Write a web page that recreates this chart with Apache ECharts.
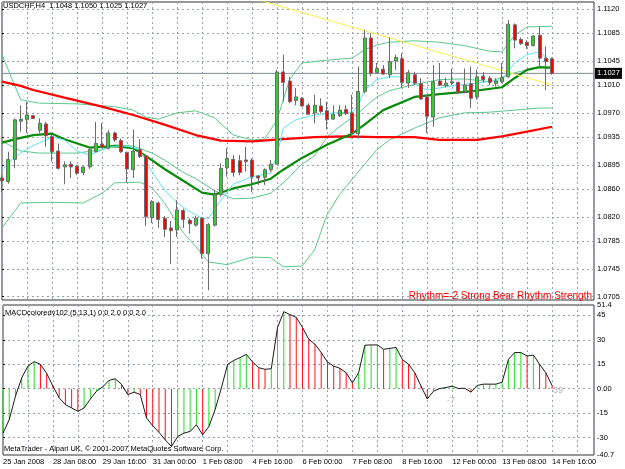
<!DOCTYPE html>
<html>
<head>
<meta charset="utf-8">
<script src="https://cdn.jsdelivr.net/npm/echarts@6/dist/echarts.min.js"></script>
<style>
  html, body { margin: 0; padding: 0; background: #fff; }
  #chart { width: 625px; height: 469px; }
</style>
</head>
<body>
<div id="chart"></div>
<script>
// USDCHF H4, 25 Jan - 14 Feb 2008, one entry per bar: [open, close, low, high]
const candles = [
  [1.0876, 1.0872, 1.0856, 1.0880], [1.0871, 1.0903, 1.0868, 1.0914], [1.0903, 1.0960, 1.0890, 1.0962],
  [1.0958, 1.0961, 1.0943, 1.0981], [1.0960, 1.0967, 1.0941, 1.0986], [1.0966, 1.0962, 1.0961, 1.0967],
  [1.0945, 1.0955, 1.0941, 1.0962], [1.0954, 1.0937, 1.0921, 1.0957], [1.0936, 1.0914, 1.0900, 1.0938],
  [1.0915, 1.0890, 1.0888, 1.0926], [1.0892, 1.0895, 1.0867, 1.0900], [1.0896, 1.0892, 1.0876, 1.0900],
  [1.0893, 1.0883, 1.0880, 1.0895], [1.0884, 1.0892, 1.0880, 1.0893], [1.0892, 1.0917, 1.0889, 1.0919],
  [1.0914, 1.0926, 1.0913, 1.0957], [1.0925, 1.0920, 1.0919, 1.0955], [1.0919, 1.0941, 1.0917, 1.0945],
  [1.0941, 1.0931, 1.0928, 1.0943], [1.0930, 1.0914, 1.0912, 1.0933], [1.0913, 1.0889, 1.0869, 1.0914],
  [1.0888, 1.0915, 1.0876, 1.0946], [1.0917, 1.0907, 1.0905, 1.0932], [1.0908, 1.0820, 1.0807, 1.0909],
  [1.0819, 1.0842, 1.0811, 1.0844], [1.0840, 1.0816, 1.0804, 1.0842], [1.0818, 1.0802, 1.0791, 1.0821],
  [1.0804, 1.0800, 1.0752, 1.0814], [1.0801, 1.0830, 1.0791, 1.0844], [1.0829, 1.0816, 1.0804, 1.0832],
  [1.0815, 1.0810, 1.0796, 1.0818], [1.0808, 1.0818, 1.0806, 1.0821], [1.0818, 1.0767, 1.0760, 1.0820],
  [1.0767, 1.0809, 1.0714, 1.0811], [1.0808, 1.0852, 1.0806, 1.0859], [1.0852, 1.0890, 1.0849, 1.0897],
  [1.0891, 1.0904, 1.0878, 1.0919], [1.0903, 1.0884, 1.0878, 1.0909], [1.0901, 1.0884, 1.0880, 1.0909],
  [1.0902, 1.0900, 1.0885, 1.0921], [1.0902, 1.0878, 1.0856, 1.0904], [1.0879, 1.0876, 1.0866, 1.0880],
  [1.0877, 1.0888, 1.0866, 1.0890], [1.0888, 1.0896, 1.0885, 1.0902], [1.0896, 1.1029, 1.0896, 1.1032],
  [1.1029, 1.1014, 1.0986, 1.1054], [1.1016, 1.0986, 1.0984, 1.1022], [1.0988, 1.0993, 1.0981, 1.1006],
  [1.0991, 1.0980, 1.0979, 1.0993], [1.0981, 1.0968, 1.0967, 1.0984], [1.0970, 1.0981, 1.0955, 1.0996],
  [1.0980, 1.0972, 1.0969, 1.0991], [1.0973, 1.0960, 1.0946, 1.0986], [1.0961, 1.0968, 1.0960, 1.0981],
  [1.0966, 1.0974, 1.0964, 1.0981], [1.0975, 1.0969, 1.0967, 1.0981], [1.0970, 1.0941, 1.0933, 1.0996],
  [1.0940, 1.1001, 1.0933, 1.1037], [1.1001, 1.1078, 1.0998, 1.1090], [1.1078, 1.1027, 1.1023, 1.1085],
  [1.1028, 1.1034, 1.1027, 1.1042], [1.1033, 1.1026, 1.1025, 1.1039], [1.1025, 1.1044, 1.1020, 1.1079],
  [1.1045, 1.1050, 1.1032, 1.1054], [1.1048, 1.1014, 1.1006, 1.1056], [1.1013, 1.1028, 1.1006, 1.1032],
  [1.1025, 1.1013, 1.1010, 1.1029], [1.1012, 1.0990, 1.0989, 1.1020], [1.0993, 1.0965, 1.0941, 1.0996],
  [1.0964, 1.1015, 1.0950, 1.1039], [1.1016, 1.1010, 1.1009, 1.1042], [1.1009, 1.1013, 1.1007, 1.1021],
  [1.1013, 1.1015, 1.1010, 1.1034], [1.1014, 1.0999, 1.0998, 1.1015], [1.1001, 1.1010, 1.0998, 1.1034],
  [1.1012, 1.0991, 1.0977, 1.1037], [1.0993, 1.1022, 1.0989, 1.1032], [1.1023, 1.1018, 1.1014, 1.1029],
  [1.1020, 1.1014, 1.1010, 1.1023], [1.1012, 1.1016, 1.1008, 1.1020], [1.1015, 1.1021, 1.1013, 1.1042],
  [1.1022, 1.1098, 1.1021, 1.1104], [1.1097, 1.1075, 1.1063, 1.1099], [1.1076, 1.1070, 1.1068, 1.1079],
  [1.1072, 1.1067, 1.1062, 1.1075], [1.1067, 1.1081, 1.1066, 1.1082], [1.1082, 1.1049, 1.1034, 1.1094],
  [1.1049, 1.1044, 1.1003, 1.1066], [1.1048, 1.1027, 1.1025, 1.1050]
];

// indicator lines, [bar, price]
const maSlow = [[0, 1.1015], [3, 1.1009], [5, 1.1003], [10, 1.0992], [16, 1.0979], [21, 1.0967], [26, 1.0953],
  [31, 1.0938], [35, 1.0930], [40, 1.0929], [45, 1.0932], [50, 1.0935], [55, 1.0936], [60, 1.0935],
  [66, 1.0935], [70, 1.0931], [76, 1.0931], [80, 1.0936], [84, 1.0943], [88, 1.0950]];
const maMid = [[0, 1.0927], [3, 1.0934], [5, 1.0938], [8, 1.0940], [10, 1.0932], [14, 1.0920], [18, 1.0922],
  [21, 1.0919], [23, 1.0908], [26, 1.0889], [29, 1.0872], [32, 1.0855], [34, 1.0852], [37, 1.0861],
  [40, 1.0867], [43, 1.0875], [45, 1.0888], [48, 1.0905], [52, 1.0924], [56, 1.0940], [58, 1.0953],
  [61, 1.0974], [66, 1.0993], [70, 1.0997], [75, 1.1001], [80, 1.1007], [82, 1.1020], [84, 1.1032],
  [86, 1.1036], [88, 1.1035]];
const maFast = [[0, 1.0888], [2, 1.0906], [4, 1.0918], [6, 1.0927], [8, 1.0935], [10, 1.0931], [12, 1.0915],
  [14, 1.0909], [16, 1.0917], [18, 1.0922], [20, 1.0922], [22, 1.0917], [24, 1.0885], [26, 1.0859],
  [28, 1.0840], [30, 1.0828], [32, 1.0818], [33, 1.0817], [35, 1.0844], [37, 1.0867], [40, 1.0878],
  [43, 1.0883], [44, 1.0909], [45, 1.0948], [47, 1.0960], [50, 1.0967], [53, 1.0970], [56, 1.0971],
  [57, 1.0981], [58, 1.1003], [60, 1.1018], [62, 1.1022], [64, 1.1022], [66, 1.1012], [68, 1.1003],
  [70, 1.1006], [73, 1.1010], [76, 1.1013], [80, 1.1018], [82, 1.1042], [84, 1.1054], [86, 1.1058],
  [88, 1.1043]];
const bandUpper = [[0, 1.1054], [2, 1.1010], [3, 1.0989], [6, 1.0984], [12, 1.0983], [18, 1.0979],
  [21, 1.0974], [23, 1.0964], [25, 1.0961], [28, 1.0970], [31, 1.0973], [34, 1.0963], [37, 1.0938],
  [40, 1.0931], [42, 1.0932], [44, 1.0960], [46, 1.1018], [48, 1.1042], [52, 1.1046], [56, 1.1049],
  [58, 1.1061], [60, 1.1068], [62, 1.1072], [66, 1.1074], [70, 1.1072], [74, 1.1067], [78, 1.1059],
  [80, 1.1058], [82, 1.1082], [84, 1.1094], [88, 1.1095]];
const bandMiddle = [[0, 1.0929], [3, 1.0915], [6, 1.0912], [8, 1.0912], [12, 1.0912], [16, 1.0917],
  [18, 1.0924], [21, 1.0922], [24, 1.0912], [26, 1.0902], [29, 1.0884], [31, 1.0875], [34, 1.0858],
  [37, 1.0846], [40, 1.0847], [43, 1.0854], [45, 1.0869], [48, 1.0896], [50, 1.0908], [52, 1.0935],
  [54, 1.0950], [57, 1.0970], [60, 1.0993], [62, 1.1002], [66, 1.1011], [70, 1.1018], [74, 1.1019],
  [78, 1.1015], [82, 1.1028], [86, 1.1036], [88, 1.1036]];
const bandLower = [[0, 1.0804], [3, 1.0840], [8, 1.0841], [13, 1.0840], [16, 1.0854], [18, 1.0869],
  [22, 1.0870], [24, 1.0862], [26, 1.0840], [29, 1.0797], [31, 1.0777], [33, 1.0755], [36, 1.0751],
  [40, 1.0762], [43, 1.0761], [45, 1.0748], [48, 1.0749], [50, 1.0772], [52, 1.0823], [54, 1.0852],
  [57, 1.0885], [60, 1.0917], [62, 1.0931], [66, 1.0948], [70, 1.0963], [74, 1.0970], [78, 1.0971],
  [82, 1.0974], [86, 1.0977], [88, 1.0977]];
const trendLine = [[38, 1.11410], [88, 1.10102]];
const lastPrice = 1.1027;

// MACDcoloredv102 (5,13,1), one value per bar
const macd = [-27.3, -19.0, -4.6, 6.7, 13.9, 16.6, 15.0, 9.4, 1.6, -5.6, -9.8, -11.8, -13.9, -11.8, -6.3,
  -1.5, 1.2, 5.1, 6.1, 2.6, -3.6, -2.1, -3.6, -18.0, -22.7, -26.8, -31.4, -35.5, -29.3, -27.3, -26.2,
  -22.1, -28.3, -23.2, -12.8, 0.5, 15.0, 17.4, 19.1, 21.1, 16.4, 12.9, 11.9, 12.3, 37.6, 47.3, 45.5,
  43.8, 37.6, 30.4, 27.3, 22.2, 16.4, 13.9, 12.5, 9.8, 3.6, 9.8, 26.7, 26.9, 26.9, 24.2, 24.8, 25.3,
  18.0, 15.0, 9.8, 1.6, -6.3, -1.5, 0.1, 0.7, 1.6, 0.1, 0.3, -2.1, 2.0, 2.8, 2.8, 2.8, 4.0, 18.0,
  22.2, 22.2, 20.1, 20.7, 15.0, 9.8, 2.0];

// axis ticks
const timeTickBars = [0, 8, 16, 24, 32, 40, 48, 56, 64, 72, 80, 88];
const timeTickLabels = ['25 Jan 2008', '28 Jan 08:00', '29 Jan 16:00', '31 Jan 00:00', '1 Feb 08:00',
  '4 Feb 16:00', '6 Feb 00:00', '7 Feb 08:00', '8 Feb 16:00', '12 Feb 00:00', '13 Feb 08:00', '14 Feb 16:00'];
const priceTicks = [1.0705, 1.0745, 1.0785, 1.0820, 1.0860, 1.0895, 1.0935, 1.0970, 1.1010, 1.1045, 1.1085, 1.1120];
const macdLabels = [-40.7, -30, -15, 0, 15, 30, 45, 51.4];
const macdGrid = [-30, -15, 0, 15, 30, 45];

const FONT = "'Liberation Sans', Arial, sans-serif";
const gridDash = { color: '#9aa3ad', type: [2, 3], width: 1 };
const xMax = 94.72; // 6.25px per bar over the 592px plot

const chart = echarts.init(document.getElementById('chart'));

function lineSeries(data, color, width) {
  return {
    type: 'line', xAxisIndex: 0, yAxisIndex: 0, data: data, showSymbol: false, symbol: 'none',
    lineStyle: { color: color, width: width }, silent: true, z: 3
  };
}

// the bid line with its price box on the right axis
const bidLine = lineSeries([[0, lastPrice], [xMax, lastPrice]], '#7f8b96', 1);
bidLine.z = 2;
bidLine.endLabel = {
  show: true, distance: 1, formatter: lastPrice.toFixed(4),
  backgroundColor: '#000', color: '#fff', fontSize: 7.5, fontFamily: FONT, padding: [2, 2, 1, 2]
};

const option = {
  animation: false,
  backgroundColor: '#ffffff',
  textStyle: { fontFamily: FONT },
  grid: [
    { left: 2, right: 31, top: 2, height: 298, show: true, borderColor: '#333', borderWidth: 1, backgroundColor: '#fff' },
    { left: 2, right: 31, top: 305, height: 150, show: true, borderColor: '#333', borderWidth: 1, backgroundColor: '#fff' }
  ],
  xAxis: [
    {
      gridIndex: 0, type: 'value', min: 0, max: xMax, interval: 4,
      axisLine: { show: false }, axisTick: { show: false }, axisLabel: { show: false },
      splitLine: { show: true, lineStyle: gridDash }
    },
    {
      gridIndex: 1, type: 'value', min: 0, max: xMax, interval: 4,
      axisLine: { show: false }, axisTick: { show: false },
      axisLabel: {
        customValues: timeTickBars, align: 'left', margin: 3,
        fontSize: 7.5, fontFamily: FONT, color: '#000',
        formatter: v => timeTickLabels[timeTickBars.indexOf(Math.round(v))] || ''
      },
      splitLine: { show: true, lineStyle: gridDash }
    }
  ],
  yAxis: [
    {
      gridIndex: 0, type: 'value', position: 'right', min: 1.0700, max: 1.1130,
      axisLine: { show: false },
      axisTick: { show: true, customValues: priceTicks, length: 2, lineStyle: { color: '#000' } },
      axisLabel: {
        customValues: priceTicks, margin: 3, fontSize: 7.5, fontFamily: FONT, color: '#000',
        formatter: v => v.toFixed(4)
      },
      splitLine: { show: true, lineStyle: gridDash }
    },
    {
      gridIndex: 1, type: 'value', position: 'right', min: -40.7, max: 51.4,
      axisLine: { show: false },
      axisTick: { show: true, customValues: macdGrid, length: 2, lineStyle: { color: '#000' } },
      axisLabel: {
        customValues: macdLabels, margin: 3, fontSize: 7.5, fontFamily: FONT, color: '#000',
        formatter: v => (v === 0 ? '0.00' : String(v))
      },
      splitLine: { show: true, lineStyle: gridDash }
    }
  ],
  series: [
    bidLine,
    lineSeries(bandUpper, '#5cc88c', 1),
    lineSeries(bandMiddle, '#5cc88c', 1),
    lineSeries(bandLower, '#5cc88c', 1),
    lineSeries(maSlow, '#ff0000', 2.2),
    {
      type: 'candlestick', xAxisIndex: 0, yAxisIndex: 0,
      data: candles.map((c, i) => [i, c[0], c[1], c[2], c[3]]),
      barWidth: 3.5,
      itemStyle: {
        color: '#32cd32', color0: '#ff0000',
        borderColor: '#6b6b6b', borderColor0: '#6b6b6b', borderColorDoji: '#6b6b6b', borderWidth: 1
      },
      z: 4
    },
    lineSeries(maMid, '#0a8a0a', 2.2),
    lineSeries(maFast, '#5ee6ee', 1),
    lineSeries(trendLine, '#f2f24a', 1),
    {
      type: 'bar', xAxisIndex: 1, yAxisIndex: 1, barWidth: 1,
      data: macd.map((v, i) => [i, v]),
      itemStyle: {
        color: p => (p.dataIndex === 0 || macd[p.dataIndex] >= macd[p.dataIndex - 1]) ? '#22e022' : '#ff1010'
      },
      silent: true
    },
    {
      type: 'line', xAxisIndex: 1, yAxisIndex: 1, showSymbol: false, symbol: 'none',
      data: macd.map((v, i) => [i, v]),
      lineStyle: { color: '#1a1a1a', width: 1 }, silent: true, z: 3
    }
  ],
  graphic: [
    { type: 'text', left: 3, top: 2, z: 10,
      style: { text: 'USDCHF,H4  1.1048 1.1050 1.1025 1.1027', font: "7.5px " + FONT, fill: '#000' } },
    { type: 'text', right: 33, top: 291, z: 10,
      style: { text: 'Rhythm=-2 Strong Bear Rhythm Strength', font: "10px " + FONT, fill: '#ff0000' } },
    { type: 'text', left: 5, top: 309, z: 10,
      style: { text: 'MACDcoloredv102 (5,13,1) 0.0 2.0 0.0 2.0', font: "7.5px " + FONT, fill: '#000' } },
    { type: 'text', left: 4, top: 445, z: 10,
      style: { text: 'MetaTrader - Alpari UK, \u00a9 2001-2007 MetaQuotes Software Corp.', font: "7.5px " + FONT, fill: '#000' } },
    { type: 'text', left: 447, top: 396, z: 10,
      style: { text: '-7', font: "9px " + FONT, fill: '#b4b4b4' } },
    { type: 'text', left: 553, top: 386, z: 10,
      style: { text: '39', font: "9px " + FONT, fill: '#b4b4b4' } }
  ]
};

chart.setOption(option);
</script>
</body>
</html>
